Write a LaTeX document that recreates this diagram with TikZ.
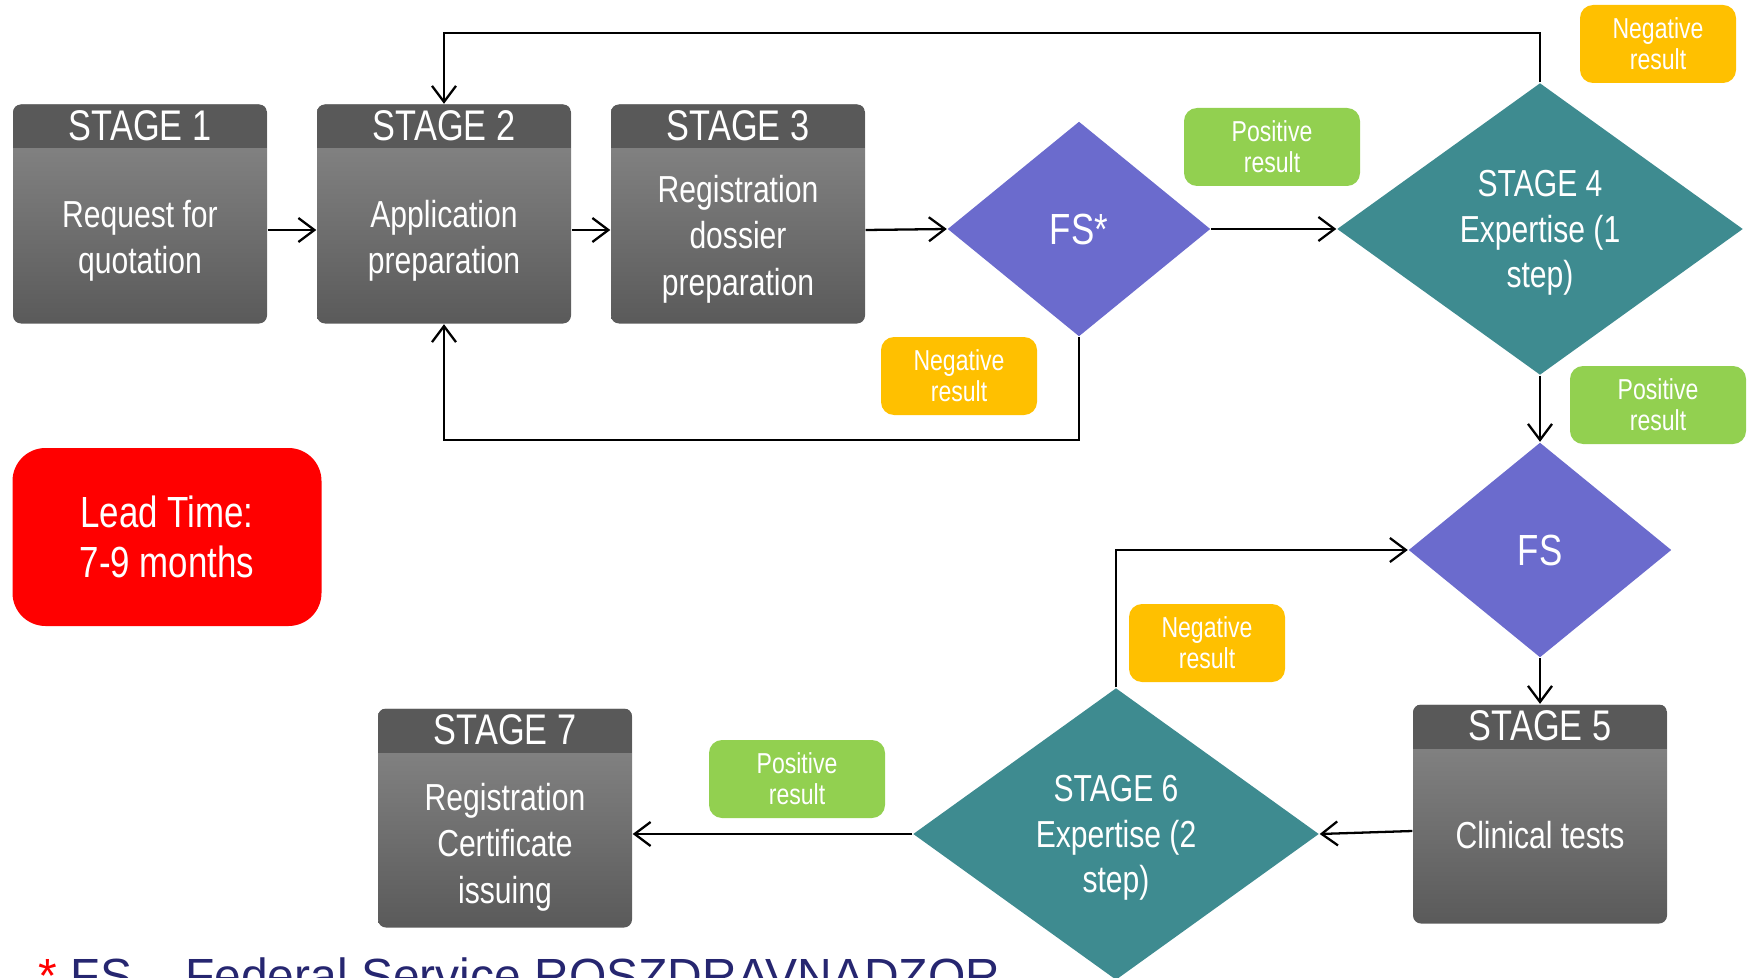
\documentclass[tikz,border=0pt]{standalone}
\usepackage{fontspec}
\setmainfont[FakeStretch=0.8]{Liberation Sans}
\newfontfamily\notefont{Liberation Sans}
\usetikzlibrary{shapes.geometric, arrows.meta, positioning}

\definecolor{stagedark}{RGB}{89,89,89}
\definecolor{stagetop}{RGB}{138,138,138}
\definecolor{stagebot}{RGB}{90,90,90}
\definecolor{fsblue}{RGB}{107,107,205}
\definecolor{expteal}{RGB}{62,139,144}
\definecolor{posgreen}{RGB}{146,208,80}
\definecolor{neggold}{RGB}{255,192,0}
\definecolor{leadred}{RGB}{255,0,0}
\definecolor{notenavy}{RGB}{38,38,112}

\tikzstyle{stagebox} = [rectangle, rounded corners=0.8mm, minimum width=25.4mm, minimum height=21.9mm, top color=stagetop, bottom color=stagebot, path picture={\fill[stagedark, sharp corners] (path picture bounding box.north west) rectangle ([yshift=-4.4mm]path picture bounding box.north east);}]
\tikzstyle{stagetitle} = [text=white, inner sep=0, font=\fontsize{12.2}{14}\selectfont]
\tikzstyle{stagetext} = [text=white, inner sep=0, align=center, font=\fontsize{10.7}{13.2}\selectfont]
\tikzstyle{decision} = [diamond, inner sep=0, text=white, align=center, text depth=0pt, font=\fontsize{10.7}{13}\selectfont]
\tikzstyle{fsbox} = [decision, fill=fsblue, minimum width=26.3mm, minimum height=21.5mm, font=\fontsize{12.4}{14}\selectfont]
\tikzstyle{expbox} = [decision, fill=expteal, minimum width=40.6mm, minimum height=29.2mm]
\tikzstyle{result} = [rectangle, rounded corners=1.3mm, minimum width=15.6mm, minimum height=7.8mm, inner sep=0, text=white, align=center, font=\fontsize{8.2}{8.8}\selectfont]
\tikzstyle{arrow} = [draw, line width=0.65pt, -{Straight Barb[length=1.6mm, width=2.4mm]}]

\begin{document}
\begin{tikzpicture}[x=0.1mm, y=-0.1mm, node distance=30.4mm]
    \useasboundingbox (0,0) rectangle (1748,978);

    % top row
    \node[stagebox] (s1) at (140,214) {};
    \node[stagebox, right of=s1] (s2) {};
    \node[stagebox, right of=s2, node distance=29.4mm] (s3) {};
    \node[fsbox] (fs1) at (1079,229) {FS*};
    \node[expbox] (s4) at (1540,229) {STAGE 4\\Expertise (1\\step)};

    % right column and bottom row
    \node[fsbox] (fs2) at (1540,550) {FS};
    \node[stagebox] (s5) at (1540,814) {};
    \node[expbox] (s6) at (1116,834) {STAGE 6\\Expertise (2\\step)};
    \node[stagebox] (s7) at (505,818) {};

    % stage texts
    \node[stagetitle] (s1t) at ([yshift=-2.15mm]s1.north) {STAGE 1};
    \node[stagetitle] (s2t) at ([yshift=-2.15mm]s2.north) {STAGE 2};
    \node[stagetitle] (s3t) at ([yshift=-2.15mm]s3.north) {STAGE 3};
    \node[stagetitle] (s5t) at ([yshift=-2.15mm]s5.north) {STAGE 5};
    \node[stagetitle] (s7t) at ([yshift=-2.15mm]s7.north) {STAGE 7};
    \node[stagetext] (s1x) at ([yshift=-2.7mm]s1.center) {Request for\\quotation};
    \node[stagetext] (s2x) at ([yshift=-2.7mm]s2.center) {Application\\preparation};
    \node[stagetext] (s3x) at ([yshift=-2.5mm]s3.center) {Registration\\dossier\\preparation};
    \node[stagetext] (s5x) at ([yshift=-2.15mm]s5.center) {Clinical tests};
    \node[stagetext] (s7x) at ([yshift=-2.9mm]s7.center) {Registration\\Certificate\\issuing};

    % results
    \node[result, fill=posgreen, minimum width=17.6mm] (pos1) at (1272,147) {Positive\\result};
    \node[result, fill=neggold] (neg1) at (959,376) {Negative\\result};
    \node[result, fill=neggold] (neg2) at (1658,44) {Negative\\result};
    \node[result, fill=posgreen, minimum width=17.6mm] (pos2) at (1658,405) {Positive\\result};
    \node[result, fill=neggold] (neg3) at (1207,643) {Negative\\result};
    \node[result, fill=posgreen, minimum width=17.6mm] (pos3) at (797,779) {Positive\\result};

    \node[rectangle, rounded corners=3.3mm, fill=leadred, minimum width=30.9mm, minimum height=17.8mm, text=white, align=center, font=\fontsize{12.4}{14.4}\selectfont] (lead) at (167,537) {Lead Time:\\7-9 months};

    % lines
    \draw [arrow] ([yshift=-1.6mm]s1.east) -- ([yshift=-1.6mm]s2.west);
    \draw [arrow] ([yshift=-1.6mm]s2.east) -- ([yshift=-1.6mm]s3.west);
    \draw [arrow] ([yshift=-1.6mm]s3.east) -- (fs1.west);
    \draw [arrow] (fs1.east) -- (s4.west);
    \draw [arrow] (s4.north) -- ++(0,-49) -| (s2.north);
    \draw [arrow] (fs1.south) -- ++(0,103) -| (s2.south);
    \draw [arrow] (s4.south) -- (fs2.north);
    \draw [arrow] (fs2.south) -- (s5.north);
    \draw [arrow] ([yshift=-1.7mm]s5.west) -- (s6.east);
    \draw [arrow] (s6.north) |- (fs2.west);
    \draw [arrow] (s6.west) -- (s7.east |- s6.west);

    % footnote
    \node[anchor=base west, inner sep=0, text=notenavy, font=\notefont\fontsize{13.65}{16}\selectfont] (note) at (38,992) {\textcolor{red}{*} FS – Federal Service ROSZDRAVNADZOR};
\end{tikzpicture}
\end{document}
